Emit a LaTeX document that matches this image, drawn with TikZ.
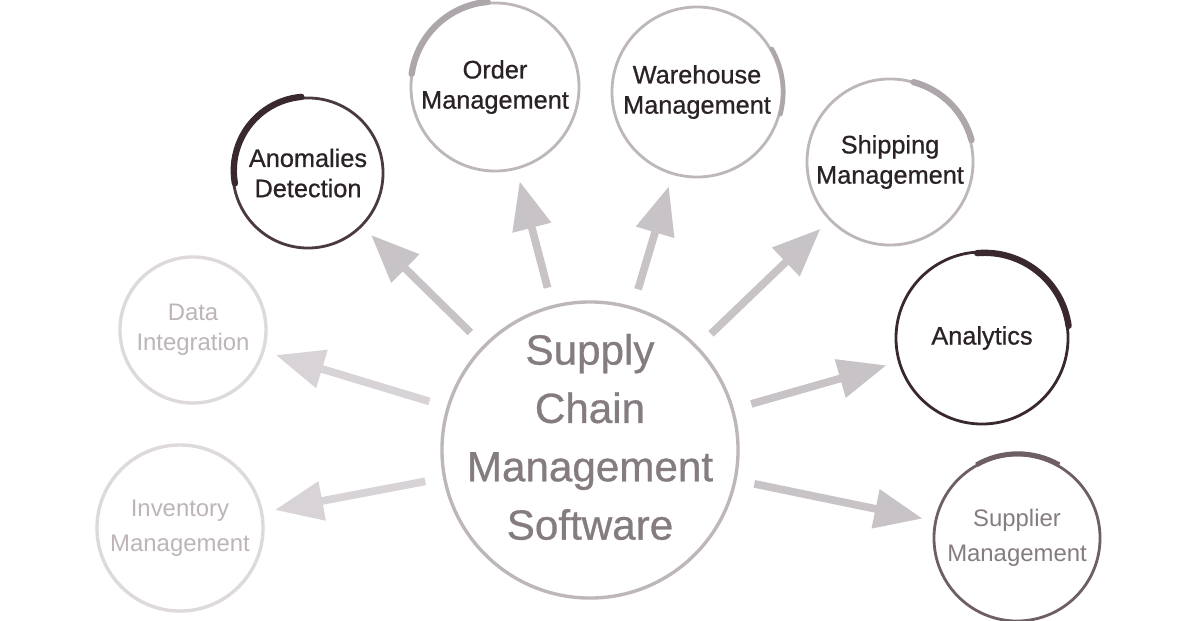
\documentclass[tikz,border=0pt]{standalone}
\usepackage{fontspec}
\setmainfont{Liberation Sans}
\newfontfamily\inkfont{Liberation Sans}[FakeBold=0.7]
\usepackage{tikz}
\usetikzlibrary{
  arrows.meta,
  shapes.geometric,
  positioning,
  calc
}
\definecolor{scInk}{HTML}{2A2226}
\definecolor{scDark}{HTML}{4A3A40}
\definecolor{scDeep}{HTML}{3A282F}
\definecolor{scRing}{HTML}{BDB7BA}
\definecolor{scBrush}{HTML}{ADA6AA}
\definecolor{scArrow}{HTML}{C8C3C6}
\definecolor{scArrowFade}{HTML}{D8D3D6}
\definecolor{scFade}{HTML}{DEDADC}
\definecolor{scFadeText}{HTML}{BDB5B9}
\definecolor{scMid}{HTML}{857C81}
\definecolor{scSupp}{HTML}{6E5E65}
\tikzset{
  bubble/.style={
    draw, circle, align=center, inner sep=0pt, line width=2pt,
    font=\inkfont\fontsize{18}{21.5}\selectfont, text=scInk
  },
  focusbub/.style={bubble, draw=scRing},
  darkbub/.style={bubble, draw=scDark},
  fadebub/.style={bubble, draw=scFade, text=scFadeText, line width=2.4pt},
  hubbub/.style={bubble, draw=scRing, line width=2.4pt},
  hubtext/.style={align=center, text=scMid, font=\inkfont\fontsize{30}{41.5}\selectfont},
  brush/.style={line width=4.5pt, line cap=round, scBrush},
  brushdark/.style={line width=4.5pt, line cap=round, scDeep},
  spoke/.style={-{Triangle[length=1.2cm, width=0.95cm]}, line width=5.5pt,
    scArrow, shorten <=0.45cm, shorten >=0.3cm},
  spokefade/.style={spoke, scArrowFade}
}

\begin{document}
\begin{tikzpicture}[x=0.025cm, y=0.025cm]
  \useasboundingbox[fill=white] (0,0) rectangle (1200,620);
  % hub
  \node[hubbub, minimum size=7.4cm] (scm) at (590,170) {};
  \node[hubtext] (scmtext) at (590,183) {Supply\\Chain\\Management\\Software};
  % satellites
  \node[focusbub, minimum size=4.2cm] (order) at (495,533) {Order\\Management};
  \node[focusbub, minimum size=4.25cm] (whouse) at (697,528) {Warehouse\\Management};
  \node[focusbub, minimum size=4.15cm] (ship) at (890,458) {Shipping\\Management};
  \node[darkbub, minimum size=3.75cm] (anom) at (308,447) {Anomalies\\Detection};
  \node[fadebub, minimum size=3.65cm, font=\fontsize{17}{21}\selectfont] (data) at (193,290) {Data\\Integration};
  \node[fadebub, minimum size=4.15cm, font=\fontsize{17}{25}\selectfont] (inv) at (180,92) {Inventory\\Management};
  \node[bubble, draw=scDeep, minimum size=4.3cm] (anal) at (982,282) {Analytics};
  \node[bubble, draw=scSupp, text=scMid, minimum size=4.15cm,
    font=\fontsize{17}{25}\selectfont] (supp) at (1017,82) {Supplier\\Management};
  % brush strokes on the rings
  \draw[brush] (order.95) arc[start angle=95, end angle=172, radius=2.1cm];
  \draw[brush, line width=3pt] (whouse.-15) arc[start angle=-15, end angle=30, radius=2.16cm];
  \draw[brush] (ship.15) arc[start angle=15, end angle=75, radius=2.05cm];
  \draw[brushdark] (anom.95) arc[start angle=95, end angle=190, radius=1.85cm];
  \draw[brushdark] (anal.8) arc[start angle=8, end angle=95, radius=2.12cm];
  \draw[scSupp, line width=3.5pt] (supp.60) arc[start angle=60, end angle=120, radius=2.07cm];
  % arrows
  \draw[spoke] (scm) -- (order);
  \draw[spoke] (scm) -- (whouse);
  \draw[spoke] (scm) -- (ship);
  \draw[spoke] (scm) -- (anom);
  \draw[spoke] (scm) -- (anal);
  \draw[spoke] (scm) -- (supp);
  \draw[spokefade] (scm) -- (data);
  \draw[spokefade] (scm) -- (inv);
\end{tikzpicture}
\end{document}
